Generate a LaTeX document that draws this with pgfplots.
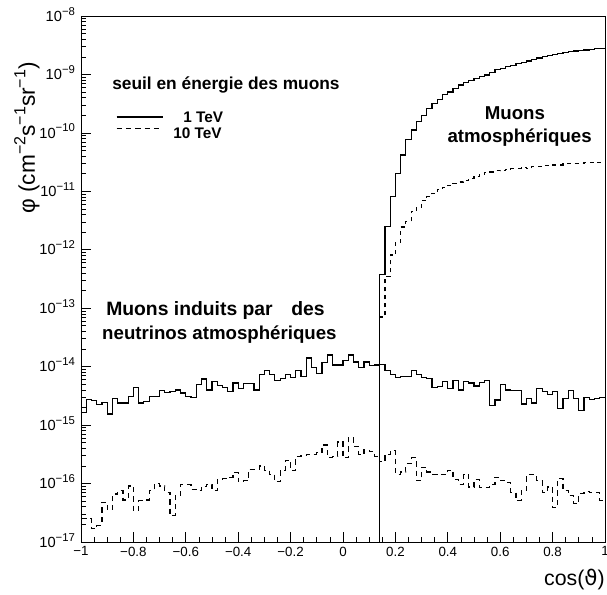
\documentclass[border=0pt]{standalone}
\usepackage{fontspec}
\setmainfont{Liberation Sans}
\newfontfamily\dejavu{DejaVu Sans}
\usepackage{pgfplots}
\usepackage{pgfplotstable}
\pgfplotsset{compat=1.18}
\newcommand\tsup[1]{\raisebox{0.8ex}{\fontsize{8.5}{9}\selectfont #1}}
\newcommand\lsup[1]{\raisebox{0.8ex}{\fontsize{12}{13}\selectfont #1}}

% neutrino-induced muons: bin left edge, 1 TeV, 10 TeV
\pgfplotstableread{
x nuA nuB
-1.00 1.62e-15 2.51e-17
-0.98 2.75e-15 2.51e-17
-0.96 2.63e-15 1.70e-17
-0.94 2.24e-15 1.91e-17
-0.92 2.46e-15 4.79e-17
-0.90 1.55e-15 3.55e-17
-0.88 2.82e-15 6.61e-17
-0.86 2.40e-15 7.59e-17
-0.84 2.40e-15 5.25e-17
-0.82 3.09e-15 9.12e-17
-0.80 4.37e-15 3.47e-17
-0.78 2.40e-15 5.13e-17
-0.76 2.57e-15 5.25e-17
-0.74 3.09e-15 7.59e-17
-0.72 3.09e-15 1.00e-16
-0.70 3.89e-15 9.12e-17
-0.68 3.63e-15 7.08e-17
-0.66 3.80e-15 2.82e-17
-0.64 3.98e-15 6.17e-17
-0.62 3.55e-15 9.77e-17
-0.60 3.09e-15 9.77e-17
-0.58 2.95e-15 7.94e-17
-0.56 4.90e-15 7.59e-17
-0.54 6.17e-15 8.91e-17
-0.52 3.98e-15 9.77e-17
-0.50 5.62e-15 7.59e-17
-0.48 4.79e-15 1.18e-16
-0.46 4.37e-15 1.23e-16
-0.44 3.80e-15 1.29e-16
-0.42 5.25e-15 1.55e-16
-0.40 4.27e-15 1.07e-16
-0.38 5.13e-15 1.12e-16
-0.36 5.13e-15 1.74e-16
-0.34 3.98e-15 1.74e-16
-0.32 7.41e-15 2.00e-16
-0.30 8.71e-15 1.70e-16
-0.28 7.41e-15 1.45e-16
-0.26 5.89e-15 1.07e-16
-0.24 6.31e-15 1.66e-16
-0.22 7.41e-15 2.51e-16
-0.20 6.46e-15 1.70e-16
-0.18 8.71e-15 2.95e-16
-0.16 6.76e-15 3.02e-16
-0.14 1.41e-14 3.16e-16
-0.12 9.55e-15 3.16e-16
-0.10 7.76e-15 3.39e-16
-0.08 1.18e-14 4.57e-16
-0.06 1.58e-14 2.82e-16
-0.04 1.07e-14 2.95e-16
-0.02 1.07e-14 5.13e-16
0.00 1.29e-14 2.75e-16
0.02 1.58e-14 6.03e-16
0.04 1.20e-14 4.37e-16
0.06 9.55e-15 3.16e-16
0.08 1.20e-14 3.80e-16
0.10 1.05e-14 3.55e-16
0.12 1.07e-14 2.95e-16
0.14 1.10e-14 2.40e-16
0.16 8.71e-15 3.16e-16
0.18 7.41e-15 3.63e-16
0.20 6.46e-15 1.45e-16
0.22 6.76e-15 1.58e-16
0.24 6.76e-15 2.19e-16
0.26 8.51e-15 2.75e-16
0.28 7.24e-15 1.12e-16
0.30 6.46e-15 1.91e-16
0.32 6.31e-15 1.58e-16
0.34 4.37e-15 1.45e-16
0.36 4.57e-15 1.41e-16
0.38 5.62e-15 1.45e-16
0.40 4.27e-15 1.70e-16
0.42 5.75e-15 1.18e-16
0.44 3.98e-15 9.77e-17
0.46 5.62e-15 1.45e-16
0.48 5.25e-15 8.71e-17
0.50 4.68e-15 1.18e-16
0.52 5.37e-15 8.51e-17
0.54 5.89e-15 8.51e-17
0.56 2.19e-15 9.55e-17
0.58 2.69e-15 1.29e-16
0.60 4.90e-15 1.12e-16
0.62 3.98e-15 1.05e-16
0.64 3.89e-15 7.08e-17
0.66 3.89e-15 5.13e-17
0.68 2.29e-15 7.59e-17
0.70 2.82e-15 1.41e-16
0.72 2.40e-15 1.41e-16
0.74 4.17e-15 1.12e-16
0.76 3.80e-15 7.08e-17
0.78 3.39e-15 8.71e-17
0.80 3.80e-15 3.89e-17
0.82 1.91e-15 1.23e-16
0.84 2.88e-15 7.59e-17
0.86 3.89e-15 6.17e-17
0.88 2.82e-15 4.57e-17
0.90 1.78e-15 6.76e-17
0.92 2.95e-15 7.24e-17
0.94 2.75e-15 7.08e-17
0.96 2.88e-15 7.08e-17
0.98 2.95e-15 5.13e-17
1.00 2.95e-15 5.13e-17
}\neutrino

% atmospheric muons: bin left edge, 1 TeV, 10 TeV
\pgfplotstableread{
x atA atB
0.14 1e-17 1e-17
0.14 3.72e-13 7.08e-14
0.16 2.51e-12 3.47e-13
0.18 8.13e-12 8.13e-13
0.20 2.04e-11 1.32e-12
0.22 4.17e-11 2.45e-12
0.24 7.59e-11 3.02e-12
0.26 1.12e-10 4.47e-12
0.28 1.55e-10 5.37e-12
0.30 2.00e-10 7.08e-12
0.32 2.63e-10 8.13e-12
0.34 3.16e-10 9.33e-12
0.36 3.72e-10 1.07e-11
0.38 4.47e-10 1.18e-11
0.40 5.01e-10 1.26e-11
0.42 5.75e-10 1.38e-11
0.44 6.61e-10 1.45e-11
0.46 7.24e-10 1.55e-11
0.48 7.94e-10 1.66e-11
0.50 8.51e-10 1.82e-11
0.52 9.12e-10 1.95e-11
0.54 9.77e-10 2.09e-11
0.56 1.07e-9 2.14e-11
0.58 1.20e-9 2.24e-11
0.60 1.26e-9 2.29e-11
0.62 1.35e-9 2.40e-11
0.64 1.41e-9 2.45e-11
0.66 1.55e-9 2.45e-11
0.68 1.62e-9 2.57e-11
0.70 1.70e-9 2.45e-11
0.72 1.82e-9 2.63e-11
0.74 1.91e-9 2.63e-11
0.76 2.00e-9 2.75e-11
0.78 2.09e-9 2.75e-11
0.80 2.19e-9 2.82e-11
0.82 2.29e-9 2.82e-11
0.84 2.34e-9 2.95e-11
0.86 2.45e-9 2.95e-11
0.88 2.51e-9 3.02e-11
0.90 2.57e-9 3.02e-11
0.92 2.63e-9 3.09e-11
0.94 2.69e-9 3.09e-11
0.96 2.82e-9 3.16e-11
0.98 2.75e-9 3.16e-11
1.00 2.75e-9 3.16e-11
}\atmo

\begin{document}
\begin{tikzpicture}
\begin{axis}[
  name=ax,
  scale only axis, width=393pt, height=394.5pt,
  xmin=-1, xmax=1, ymin=1e-17, ymax=1e-8,
  ymode=log, log basis y=10,
  clip mode=individual,
  axis line style={line width=0.6pt},
  tick pos=left, tick align=inside,
  xtick={-1,-0.8,-0.6,-0.4,-0.2,0,0.2,0.4,0.6,0.8,1},
  xticklabels={−1,−0.8,−0.6,−0.4,−0.2,0,0.2,0.4,0.6,0.8,1},
  minor x tick num=3,
  ytick={1e-17,1e-16,1e-15,1e-14,1e-13,1e-12,1e-11,1e-10,1e-9,1e-8},
  yticklabels={10\tsup{−17},10\tsup{−16},10\tsup{−15},10\tsup{−14},10\tsup{−13},10\tsup{−12},10\tsup{−11},10\tsup{−10},10\tsup{−9},10\tsup{−8}},
  minor ytick={2e-17,3e-17,4e-17,5e-17,6e-17,7e-17,8e-17,9e-17,
    2e-16,3e-16,4e-16,5e-16,6e-16,7e-16,8e-16,9e-16,
    2e-15,3e-15,4e-15,5e-15,6e-15,7e-15,8e-15,9e-15,
    2e-14,3e-14,4e-14,5e-14,6e-14,7e-14,8e-14,9e-14,
    2e-13,3e-13,4e-13,5e-13,6e-13,7e-13,8e-13,9e-13,
    2e-12,3e-12,4e-12,5e-12,6e-12,7e-12,8e-12,9e-12,
    2e-11,3e-11,4e-11,5e-11,6e-11,7e-11,8e-11,9e-11,
    2e-10,3e-10,4e-10,5e-10,6e-10,7e-10,8e-10,9e-10,
    2e-9,3e-9,4e-9,5e-9,6e-9,7e-9,8e-9,9e-9},
  major tick length=7.5pt, minor tick length=3.75pt,
  every tick/.style={black, line width=0.5pt},
  xticklabel style={font=\fontsize{10}{12}\selectfont},
  yticklabel style={font=\fontsize{11}{13}\selectfont, anchor=base east, yshift=-3.9pt, xshift=-1pt},
  no marks,
]
\addplot[const plot, black, line width=0.9pt] table[x=x,y=nuA]{\neutrino};
\addplot[const plot, black, line width=0.9pt, dash pattern=on 4pt off 3pt] table[x=x,y=nuB]{\neutrino};
\addplot[const plot, black, line width=0.9pt] table[x=x,y=atA]{\atmo};
\addplot[const plot, black, line width=0.9pt, dash pattern=on 3pt off 3pt] table[x=x,y=atB]{\atmo};

% legend-like annotation
\node[anchor=west, inner sep=0, font=\bfseries\fontsize{13}{15}\selectfont] at (rel axis cs:0.0592,0.869) {seuil en énergie des muons};
\draw[line width=0.9pt] (rel axis cs:0.068,0.808) -- (rel axis cs:0.157,0.808);
\draw[line width=0.9pt, dash pattern=on 4pt off 3pt] (rel axis cs:0.068,0.7865) -- (rel axis cs:0.157,0.7865);
\node[anchor=west, inner sep=0, font=\bfseries\fontsize{11.5}{13}\selectfont] at (rel axis cs:0.1947,0.808) {1 TeV};
\node[anchor=west, inner sep=0, font=\bfseries\fontsize{11.5}{13}\selectfont] at (rel axis cs:0.1756,0.7776) {10 TeV};

\node[inner sep=0, font=\bfseries\fontsize{14}{16}\selectfont] at (rel axis cs:0.828,0.8156) {Muons};
\node[inner sep=0, font=\bfseries\fontsize{14}{16}\selectfont] at (rel axis cs:0.837,0.768) {atmosphériques};
\node[anchor=west, inner sep=0, font=\bfseries\fontsize{14.5}{16}\selectfont] at (rel axis cs:0.0477,0.441) {Muons induits par\hspace{14pt}des};
\node[anchor=west, inner sep=0, font=\bfseries\fontsize{14}{16}\selectfont] at (rel axis cs:0.040,0.3935) {neutrinos atmosphériques};

% axis titles
\node[anchor=base east, inner sep=0, font=\fontsize{16}{18}\selectfont] at (rel axis cs:1.0,-0.0818) {cos({\dejavu ϑ})};
\node[rotate=90, anchor=base east, inner sep=0, font=\fontsize{17}{19}\selectfont] at (rel axis cs:-0.0878,0.9125) {φ (cm\lsup{−2}s\lsup{−1}sr\lsup{−1})};
\end{axis}
\pgfresetboundingbox
\path ([xshift=-60.75pt,yshift=-39pt]ax.south west) rectangle ([xshift=1.5pt,yshift=12pt]ax.north east);
\end{tikzpicture}
\end{document}
